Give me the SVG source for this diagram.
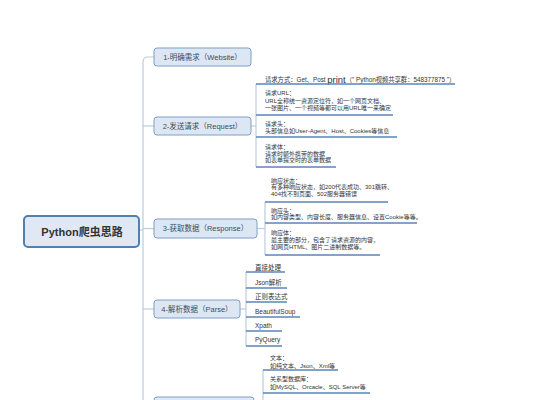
<svg xmlns="http://www.w3.org/2000/svg" width="534" height="400" viewBox="0 0 534 400">
<style>
text{font-family:"Liberation Sans","Noto Sans CJK SC",sans-serif;fill:#333;dominant-baseline:central}
.node rect{fill:#dde7f3;stroke:#7f9fc6;stroke-width:1}
.node text{font-size:7.5px;fill:#3d4b5c;text-anchor:middle}
.conn{stroke:#bccbdd;stroke-width:1.2;fill:none}
.ul{stroke:#5a85b8;stroke-width:1.3}
.t{font-size:6px}
.t2{font-size:6.5px}
</style>
<rect width="534" height="400" fill="#fff"/>
<g id="connectors">
<path class="conn" d="M154,57 H148 Q143,57 143,62 V400"/>
<line class="conn" x1="139" y1="230" x2="143" y2="230"/>
<line class="conn" x1="143" y1="126" x2="154" y2="126"/>
<line class="conn" x1="143" y1="228.5" x2="154" y2="228.5"/>
<line class="conn" x1="143" y1="309" x2="154" y2="309"/>
<line class="conn" x1="251" y1="126" x2="256" y2="126"/>
<line class="conn" x1="256" y1="84" x2="256" y2="167"/>
<line class="conn" x1="257" y1="228.5" x2="265" y2="228.5"/>
<line class="conn" x1="265" y1="202" x2="265" y2="255"/>
<line class="conn" x1="240" y1="309" x2="246" y2="309"/>
<line class="conn" x1="246" y1="272" x2="246" y2="346"/>
<line class="conn" x1="263" y1="370" x2="263" y2="400"/>
</g>
<g id="root">
<rect x="24" y="216" width="115" height="31" rx="4" fill="#dfe8f3" stroke="#4f7fb5" stroke-width="2"/>
<text x="82" y="231.5" font-size="11" font-weight="bold" fill="#2f4058" text-anchor="middle">Python爬虫思路</text>
</g>
<g id="n1" class="node"><rect x="154" y="48" width="97" height="18" rx="3"/><text x="202.5" y="57">1-明确需求（Website）</text></g>
<g id="n2" class="node"><rect x="154" y="117" width="97" height="18" rx="3"/><text x="202.5" y="126">2-发送请求（Request）</text></g>
<g id="n3" class="node"><rect x="154" y="219" width="103" height="19" rx="3"/><text x="205.5" y="228.5">3-获取数据（Response）</text></g>
<g id="n4" class="node"><rect x="154" y="300" width="86" height="18" rx="3"/><text x="197" y="309">4-解析数据（Parse）</text></g>
<g id="n5" class="node"><rect x="154" y="397" width="100" height="18" rx="3"/></g>
<g id="n2c1"><text x="265" y="79" font-size="6.3">请求方式：Get、Post <tspan font-size="9.5">print</tspan>（" Python视频共享群：548377875 "）</text><line class="ul" x1="256" y1="84" x2="455" y2="84"/></g>
<g id="n2c2"><text class="t" x="265" y="93">请求URL：</text><text class="t" x="265" y="100.5">URL全称统一资源定位符，如一个网页文档、</text><text class="t" x="265" y="108">一张图片、一个视频等都可以用URL唯一来确定</text><line class="ul" x1="256" y1="115" x2="393" y2="115"/></g>
<g id="n2c3"><text class="t" x="265" y="124">请求头：</text><text class="t" x="265" y="131">头部信息如User-Agent、Host、Cookies等信息</text><line class="ul" x1="256" y1="137" x2="397" y2="137"/></g>
<g id="n2c4"><text class="t" x="265" y="147">请求体：</text><text class="t" x="265" y="153.5">请求时额外携带的数据</text><text class="t" x="265" y="160">如表单提交时的表单数据</text><line class="ul" x1="256" y1="167" x2="336" y2="167"/></g>
<g id="n3c1"><text class="t" x="271" y="181">响应状态：</text><text class="t" x="271" y="187">有多种响应状态，如200代表成功、301跳转、</text><text class="t" x="271" y="193.5">404找不到页面、502服务器错误</text><line class="ul" x1="265" y1="202" x2="388" y2="202"/></g>
<g id="n3c2"><text class="t" x="271" y="211">响应头：</text><text class="t" x="271" y="217">如内容类型、内容长度、服务器信息、设置Cookie等等。</text><line class="ul" x1="265" y1="223" x2="417" y2="223"/></g>
<g id="n3c3"><text class="t" x="271" y="233">响应体：</text><text class="t" x="271" y="240">最主要的部分，包含了请求资源的内容，</text><text class="t" x="271" y="247">如网页HTML、图片二进制数据等。</text><line class="ul" x1="265" y1="255" x2="380" y2="255"/></g>
<g id="n4c1"><text class="t2" x="255" y="267">直接处理</text><line class="ul" x1="246" y1="272" x2="285" y2="272"/></g>
<g id="n4c2"><text class="t2" x="255" y="282">Json解析</text><line class="ul" x1="246" y1="288" x2="287" y2="288"/></g>
<g id="n4c3"><text class="t2" x="255" y="296">正则表达式</text><line class="ul" x1="246" y1="302" x2="287" y2="302"/></g>
<g id="n4c4"><text class="t2" x="255" y="311">BeautifulSoup</text><line class="ul" x1="246" y1="317" x2="300" y2="317"/></g>
<g id="n4c5"><text class="t2" x="255" y="325">Xpath</text><line class="ul" x1="246" y1="331" x2="282" y2="331"/></g>
<g id="n4c6"><text class="t2" x="255" y="339.5">PyQuery</text><line class="ul" x1="246" y1="346" x2="282" y2="346"/></g>
<g id="n5c1"><text class="t" x="270" y="358">文本：</text><text class="t" x="270" y="365.5">如纯文本、Json、Xml等</text><line class="ul" x1="263" y1="370" x2="338" y2="370"/></g>
<g id="n5c2"><text class="t" x="270" y="379">关系型数据库：</text><text class="t" x="270" y="387">如MySQL、Orcacle、SQL Server等</text><line class="ul" x1="263" y1="393" x2="370" y2="393"/></g>
</svg>
